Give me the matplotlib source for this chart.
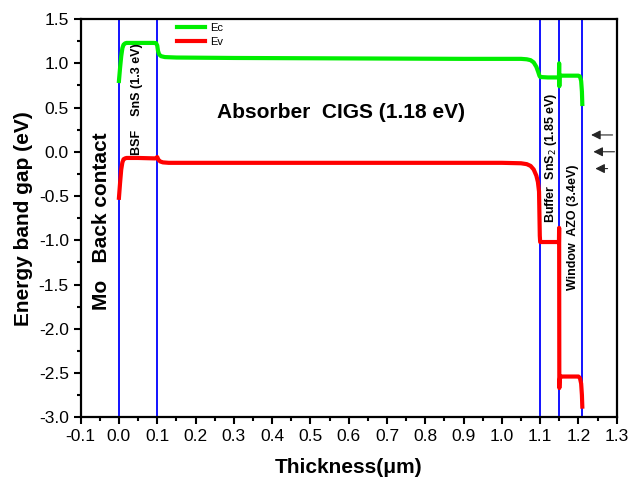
import matplotlib
matplotlib.use('Agg')
import matplotlib.pyplot as plt
from matplotlib.ticker import MultipleLocator, FormatStrFormatter

plt.rcParams['font.family'] = ['Liberation Sans', 'DejaVu Sans']
plt.rcParams['axes.unicode_minus'] = False

# conduction band edge
ec_x = [0.0, 0.003, 0.006, 0.009, 0.012, 0.016, 0.02, 0.05, 0.09, 0.097, 0.1, 0.102, 0.105,
        0.11, 0.12, 0.15, 0.3, 0.6, 0.9, 1.0, 1.05, 1.065, 1.075, 1.083, 1.09, 1.095, 1.098,
        1.1, 1.12, 1.149, 1.1495, 1.15, 1.1505, 1.153, 1.17, 1.2, 1.204, 1.207, 1.209, 1.21]
ec_y = [0.80, 0.95, 1.08, 1.17, 1.21, 1.225, 1.23, 1.23, 1.23, 1.228, 1.2, 1.14, 1.10,
        1.08, 1.07, 1.065, 1.06, 1.055, 1.05, 1.05, 1.05, 1.045, 1.035, 1.01, 0.96, 0.90, 0.86,
        0.845, 0.84, 0.84, 1.0, 0.74, 0.86, 0.86, 0.86, 0.86, 0.85, 0.8, 0.68, 0.54]

# valence band edge
ev_x = [0.0, 0.003, 0.006, 0.009, 0.012, 0.016, 0.02, 0.05, 0.095, 0.1, 0.103, 0.108,
        0.115, 0.13, 0.3, 0.6, 0.9, 1.0, 1.05, 1.065, 1.075, 1.083, 1.09, 1.094, 1.097,
        1.098, 1.099, 1.1, 1.12, 1.149, 1.1495, 1.15, 1.1505, 1.152, 1.155, 1.17, 1.2,
        1.204, 1.207, 1.209, 1.21]
ev_y = [-0.52, -0.35, -0.2, -0.12, -0.085, -0.075, -0.07, -0.07, -0.075, -0.06, -0.09, -0.11,
        -0.12, -0.125, -0.125, -0.125, -0.125, -0.125, -0.13, -0.14, -0.16, -0.2, -0.27, -0.34,
        -0.45, -0.7, -0.95, -1.02, -1.02, -1.02, -0.86, -2.67, -2.6, -2.55, -2.54, -2.54,
        -2.54, -2.56, -2.62, -2.75, -2.88]

interfaces = [0.0, 0.1, 1.1, 1.15, 1.21]

fig = plt.figure(figsize=(6.3, 4.88), dpi=100)
ax = fig.add_axes([0.128, 0.145, 0.851, 0.816])

for xv in interfaces:
    ax.axvline(xv, color='#0000ff', lw=1.3, zorder=1)

ax.plot(ec_x, ec_y, color='#00ee00', lw=3, label='Ec', zorder=3, solid_joinstyle='round')
ax.plot(ev_x, ev_y, color='#ff0000', lw=3, label='Ev', zorder=3, solid_joinstyle='round')

ax.set_xlim(-0.1, 1.3)
ax.set_ylim(-3.0, 1.5)
ax.xaxis.set_major_locator(MultipleLocator(0.1))
ax.xaxis.set_minor_locator(MultipleLocator(0.05))
ax.yaxis.set_major_locator(MultipleLocator(0.5))
ax.yaxis.set_minor_locator(MultipleLocator(0.25))
ax.xaxis.set_major_formatter(FormatStrFormatter('%.1f'))
ax.yaxis.set_major_formatter(FormatStrFormatter('%.1f'))
ax.tick_params(which='both', direction='out', width=1.5, labelsize=12.5)
ax.tick_params(which='major', length=5)
ax.tick_params(which='minor', length=3)
for s in ax.spines.values():
    s.set_linewidth(1.6)

ax.set_xlabel('Thickness(μm)', fontsize=15, fontweight='bold', labelpad=10)
ax.set_ylabel('Energy band gap (eV)', fontsize=15, fontweight='bold', labelpad=4)

ax.legend(loc='upper left', bbox_to_anchor=(0.179, 0.99), frameon=False, fontsize=8,
          handlelength=2.6, labelspacing=0.35, borderpad=0, borderaxespad=0,
          handletextpad=0.4)

ax.text(0.579, 0.44, 'Absorber  CIGS (1.18 eV)', fontsize=15, fontweight='bold',
        ha='center', va='center')
ax.text(-0.045, -0.785, 'Mo   Back contact', fontsize=15, fontweight='bold', rotation=90,
        ha='center', va='center')
ax.text(0.046, 0.59, 'BSF    SnS (1.3 eV)', fontsize=9, fontweight='bold', rotation=90,
        ha='center', va='center')
ax.text(1.129, -0.067, 'Buffer  SnS$_2$ (1.85 eV)', fontsize=9, fontweight='bold', rotation=90,
        ha='center', va='center')
ax.text(1.185, -0.85, 'Window  AZO (3.4eV)', fontsize=9, fontweight='bold', rotation=90,
        ha='center', va='center')

arrows = [(1.289, 1.233, 0.19), (1.294, 1.239, 0.0), (1.276, 1.244, -0.19)]
for x0, x1, yv in arrows:
    ax.annotate('', xy=(x1, yv), xytext=(x0, yv),
                arrowprops=dict(arrowstyle='-|>', color='0.15', lw=0.8, mutation_scale=14,
                                shrinkA=0, shrinkB=0))

fig.savefig('out.png', dpi=100)
